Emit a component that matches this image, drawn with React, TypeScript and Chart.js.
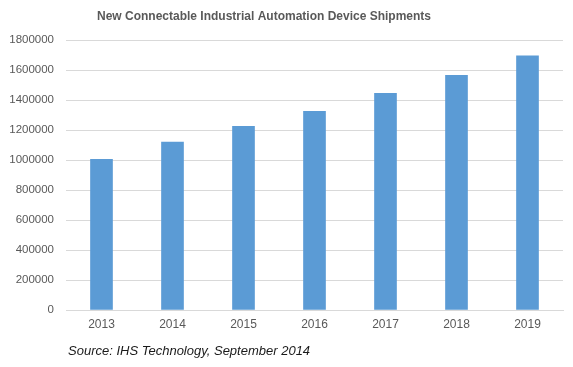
import React, { useEffect, useRef } from "react";
import { Chart, registerables } from "chart.js";

Chart.register(...registerables);

const titleText = "New Connectable Industrial Automation Device Shipments";
const sourceText = "Source: IHS Technology, September 2014";
const categories = ["2013", "2014", "2015", "2016", "2017", "2018", "2019"];
const shipments = [1005000, 1120000, 1225000, 1325000, 1445000, 1565000, 1695000];
const yTicks = [0, 200000, 400000, 600000, 800000, 1000000, 1200000, 1400000, 1600000, 1800000];

const FONT = "'Liberation Sans', Arial, sans-serif";

const textPlugin = {
  id: "textPlugin",
  afterDraw(chart: any) {
    const ctx = chart.ctx;
    ctx.save();
    ctx.fillStyle = "#595959";
    ctx.font = `bold 12px ${FONT}`;
    ctx.textAlign = "center";
    ctx.textBaseline = "middle";
    ctx.fillText(titleText, 264, 17);
    ctx.fillStyle = "#1a1a1a";
    ctx.font = `italic 13px ${FONT}`;
    ctx.textAlign = "left";
    ctx.fillText(sourceText, 68, 351);
    ctx.restore();
  },
};

export default function App() {
  const ref = useRef<HTMLCanvasElement>(null);
  useEffect(() => {
    const chart = new Chart(ref.current!, {
      type: "bar",
      data: {
        labels: categories,
        datasets: [
          {
            data: shipments,
            backgroundColor: "#5b9bd5",
            barThickness: 22,
          },
        ],
      },
      options: {
        responsive: false,
        animation: false,
        layout: { padding: { top: 40, right: 10, bottom: 32, left: 0 } },
        plugins: {
          legend: { display: false },
          title: { display: false },
          tooltip: { enabled: false },
        },
        scales: {
          x: {
            grid: { display: false, drawTicks: false },
            border: { display: true, color: "#d9d9d9" },
            ticks: { color: "#595959", font: { family: FONT, size: 12 }, padding: 7 },
            afterFit: (s: any) => {
              s.height = 25;
            },
          },
          y: {
            min: 0,
            max: 1800000,
            afterBuildTicks: (s: any) => {
              s.ticks = yTicks.map((v) => ({ value: v }));
            },
            grid: { color: "#d9d9d9", drawTicks: false },
            border: { display: false },
            ticks: {
              color: "#595959",
              font: { family: FONT, size: 11.5 },
              padding: 12,
              callback: (v: any) => String(v),
            },
            afterFit: (s: any) => {
              s.width = 66;
            },
          },
        },
      },
      plugins: [textPlugin],
    });
    return () => chart.destroy();
  }, []);
  return (
    <div style={{ position: "fixed", left: 0, top: 0, width: 573, height: 367, background: "#fff" }}>
      <canvas ref={ref} width={573} height={367} />
    </div>
  );
}
